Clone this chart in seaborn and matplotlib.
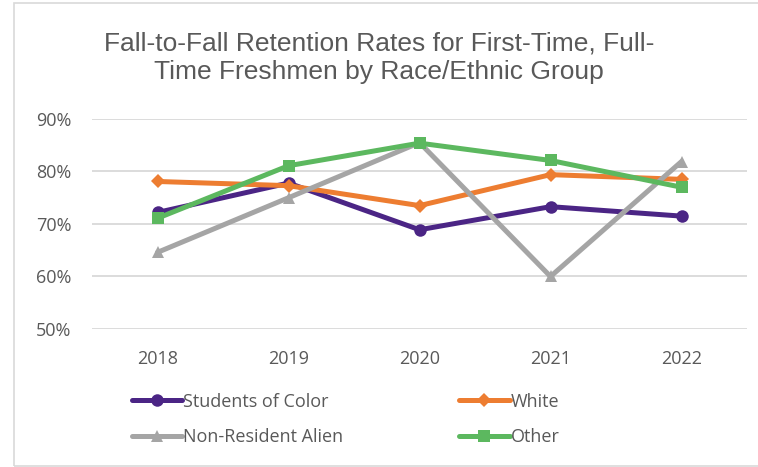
import matplotlib
matplotlib.use("Agg")
import matplotlib.pyplot as plt
import seaborn as sns
import pandas as pd
from matplotlib.patches import Rectangle

# chart values
years = ["2018", "2019", "2020", "2021", "2022"]
students_of_color = [0.722, 0.778, 0.689, 0.733, 0.715]
white = [0.781, 0.773, 0.735, 0.794, 0.785]
non_resident_alien = [0.646, 0.750, 0.855, 0.600, 0.819]
other = [0.711, 0.811, 0.854, 0.821, 0.770]

groups = ["Students of Color", "White", "Non-Resident Alien", "Other"]
series = [students_of_color, white, non_resident_alien, other]

# long-form table for seaborn
rows = []
for g, vals in zip(groups, series):
	for y, v in zip(years, vals):
		rows.append({"Year": y, "Rate": v, "Group": g})
df = pd.DataFrame(rows)

colors = {"Students of Color": "#4B2585", "White": "#ED7D31",
		  "Non-Resident Alien": "#A5A5A5", "Other": "#5CB85F"}
markers = {"Students of Color": "o", "White": "D",
		   "Non-Resident Alien": "^", "Other": "s"}
msizes = {"Students of Color": 9, "White": 7, "Non-Resident Alien": 9, "Other": 8}

sns.set_style("white")
plt.rcParams["font.family"] = ["Open Sans", "DejaVu Sans"]

fig = plt.figure(figsize=(7.58, 4.67), dpi=100)
ax = fig.add_axes([0.1214, 0.2955, 0.8641, 0.4497])

for g in groups:
	sub = df[df["Group"] == g]
	sns.lineplot(data=sub, x="Year", y="Rate", color=colors[g], marker=markers[g],
				 markersize=msizes[g], markeredgewidth=0, linewidth=3.6,
				 sort=False, label=g, ax=ax)

ax.set_ylim(0.5, 0.9)
ax.set_xlim(-0.5, 4.5)
ax.set_yticks([0.5, 0.6, 0.7, 0.8, 0.9])
ax.set_yticklabels([f"{int(round(t * 100))}%" for t in [0.5, 0.6, 0.7, 0.8, 0.9]])
ax.yaxis.grid(True, color="#D9D9D9", linewidth=1.3)
ax.set_axisbelow(True)
for s in ax.spines.values():
	s.set_visible(False)
ax.tick_params(axis="both", length=0, labelsize=13, labelcolor="#595959")
ax.tick_params(axis="y", pad=15)
ax.tick_params(axis="x", pad=15)
ax.set_xlabel("")
ax.set_ylabel("")

# legend fills row by row in the reference: reorder for matplotlib's column fill
handles, labels = ax.get_legend_handles_labels()
ax.get_legend().remove()
order = [0, 2, 1, 3]
fig.legend([handles[i] for i in order], [labels[i] for i in order], ncol=2,
		   loc="center", bbox_to_anchor=(0.456, 0.102),
		   frameon=False, fontsize=13, labelcolor="#595959", handlelength=2.8,
		   handletextpad=0.05, columnspacing=6.4, labelspacing=0.95)

fig.text(0.5, 0.876, "Fall-to-Fall Retention Rates for First-Time, Full-\nTime Freshmen by Race/Ethnic Group",
		 ha="center", va="center", fontsize=19, color="#595959", linespacing=1.22,
		 family=["Liberation Sans Narrow", "Liberation Sans", "DejaVu Sans"])

# light chart border
fig.patches.append(Rectangle((14 / 758, 1 / 467), 760 / 758, 463 / 467, transform=fig.transFigure,
							 fill=False, edgecolor="#D9D9D9", linewidth=1.2))

fig.savefig("out.png", dpi=100)
plt.close(fig)
